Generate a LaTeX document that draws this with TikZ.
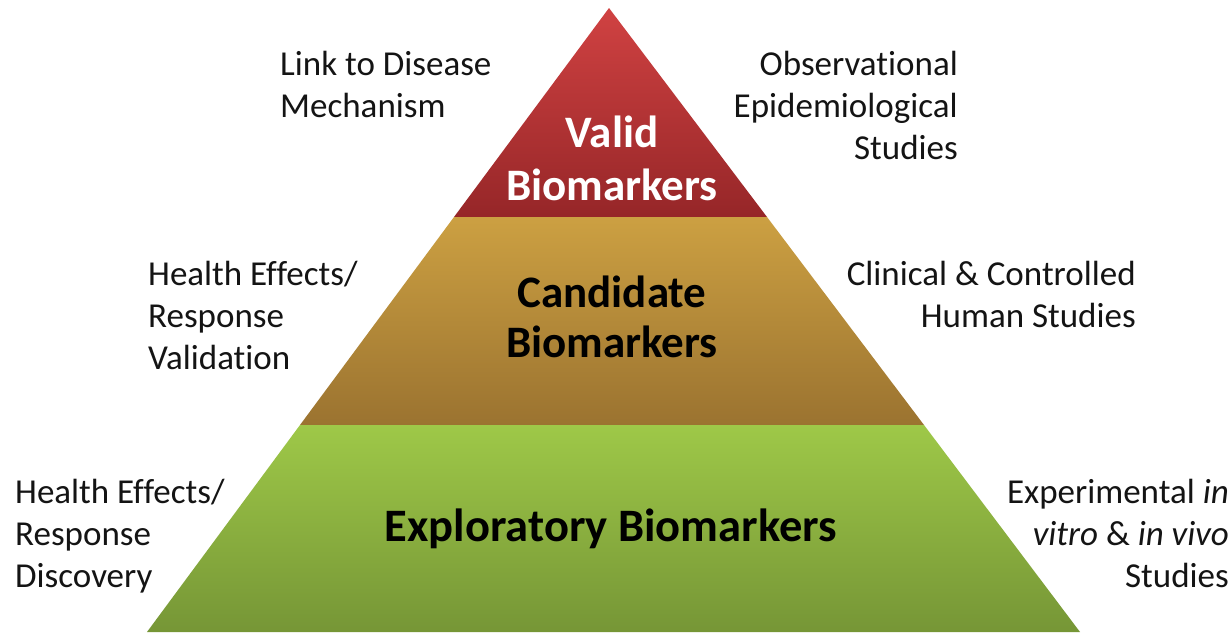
\documentclass[tikz,border=0pt]{standalone}
\usepackage{fontspec}
\setmainfont{Carlito}[Ligatures=CommonOff]
\definecolor{redtop}{RGB}{208,66,66}
\definecolor{redbot}{RGB}{150,38,40}
\definecolor{goldtop}{RGB}{204,160,66}
\definecolor{goldbot}{RGB}{155,115,48}
\definecolor{greentop}{RGB}{158,200,72}
\definecolor{greenbot}{RGB}{118,150,54}
\definecolor{labelgray}{RGB}{20,20,20}
\tikzset{
  side/.style={inner sep=0pt, font=\fontsize{35}{42}\selectfont, text=labelgray},
  tier/.style={inner sep=0pt, align=center},
}
\begin{document}
\begin{tikzpicture}[x=1pt,y=-1pt]
\useasboundingbox (0,0) rectangle (1231,632);
\clip (0,0) rectangle (1231,632);
\fill[white] (0,0) rectangle (1231,632);
% tiers
\shade[top color=redtop, bottom color=redbot] (609,8) -- (767,217) -- (454,217) -- cycle;
\shade[top color=goldtop, bottom color=goldbot] (454,217) -- (767,217) -- (924,425) -- (300,425) -- cycle;
\shade[top color=greentop, bottom color=greenbot] (300,425) -- (924,425) -- (1080,632) -- (147,632) -- cycle;
% tier labels
\node[tier, text=white, anchor=base, font=\fontsize{45}{53}\selectfont\bfseries] (valid) at (612,200) {Valid\\Biomarkers};
\node[tier, text=black, anchor=base, font=\fontsize{45}{50}\selectfont\bfseries] (cand) at (612,357) {Candidate\\Biomarkers};
\node[tier, text=black, anchor=base, font=\fontsize{46.5}{50}\selectfont\bfseries] (expl) at (611,541) {Exploratory Biomarkers};
% side labels
\node[side, align=left, anchor=north west] (link) at (280,51) {Link to Disease\\Mechanism};
\node[side, align=right, anchor=north east] (obs) at (958,51) {Observational\\Epidemiological\\Studies};
\node[side, align=left, anchor=north west] (hev) at (148,261) {Health Effects/\\Response\\Validation};
\node[side, align=right, anchor=north east] (clin) at (1136,261) {Clinical \& Controlled\\Human Studies};
\node[side, align=left, anchor=north west] (hed) at (15,479) {Health Effects/\\Response\\Discovery};
\node[side, align=right, anchor=north east] (exper) at (1229,479) {Experimental \textit{in}\\\textit{vitro} \& \textit{in vivo}\\Studies};
\end{tikzpicture}
\end{document}
